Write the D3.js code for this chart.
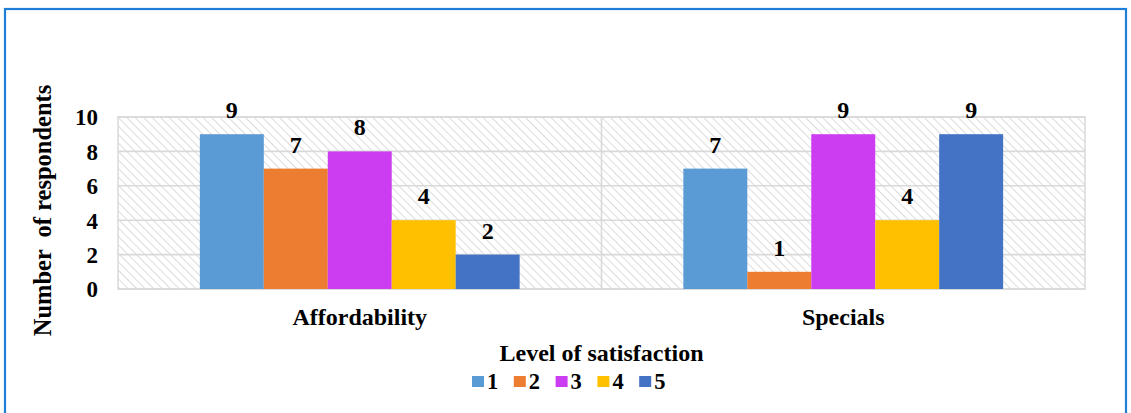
<!DOCTYPE html>
<html>
<head>
<meta charset="utf-8">
<script src="https://cdn.jsdelivr.net/npm/d3@7"></script>
<style>
  html, body { margin: 0; padding: 0; background: #ffffff; }
  svg { display: block; }
  svg text { font-family: 'Liberation Serif', 'Times New Roman', Tinos, 'DejaVu Serif', serif !important; font-weight: bold; fill: #000; }
</style>
</head>
<body>
<svg id="chart" width="1131" height="413"></svg>
<script>
// Survey responses by satisfaction level
const categories = ["Affordability", "Specials"];
const levels = ["1", "2", "3", "4", "5"];
const affordability = [9, 7, 8, 4, 2];
const specials = [7, 1, 9, 4, 9];
const yTicks = [0, 2, 4, 6, 8, 10];
const levelColors = ["#5b9bd5", "#ed7d31", "#cc3df2", "#ffc000", "#4472c4"];

const seriesByCategory = [affordability, specials];

const W = 1131, H = 413;
const plot = { left: 118, right: 1085, top: 117, bottom: 289 };
const FONT = "'Liberation Serif', 'Times New Roman', Tinos, 'DejaVu Serif', serif";

const svg = d3.select("#chart");

// outer chart frame
svg.append("rect")
  .attr("x", 5).attr("y", 9)
  .attr("width", 1121).attr("height", H + 10)
  .attr("fill", "#ffffff")
  .attr("stroke", "#1f7fd6")
  .attr("stroke-width", 2.2);

// diagonal hatch for the plot area
const defs = svg.append("defs");
const pat = defs.append("pattern")
  .attr("id", "hatch")
  .attr("patternUnits", "userSpaceOnUse")
  .attr("width", 6).attr("height", 6)
  .attr("patternTransform", "rotate(-45)");
pat.append("rect").attr("width", 6).attr("height", 6).attr("fill", "#ffffff");
pat.append("line")
  .attr("x1", 0).attr("y1", 0).attr("x2", 0).attr("y2", 6)
  .attr("stroke", "#d3d3d3").attr("stroke-width", 1.6);

const x0 = d3.scaleBand()
  .domain(categories)
  .range([plot.left, plot.right])
  .paddingInner(0).paddingOuter(0);

const x1 = d3.scaleBand()
  .domain(levels)
  .range([0, x0.bandwidth()])
  .paddingInner(0)
  .paddingOuter(1.28);

const y = d3.scaleLinear()
  .domain([0, 10])
  .range([plot.bottom, plot.top]);

// plot area background
svg.append("rect")
  .attr("x", plot.left).attr("y", plot.top)
  .attr("width", plot.right - plot.left)
  .attr("height", plot.bottom - plot.top)
  .attr("fill", "url(#hatch)")
  .attr("stroke", "#d9d9d9")
  .attr("stroke-width", 1.5);

// horizontal gridlines
svg.append("g")
  .selectAll("line")
  .data(yTicks)
  .join("line")
  .attr("x1", plot.left).attr("x2", plot.right)
  .attr("y1", d => y(d)).attr("y2", d => y(d))
  .attr("stroke", "#d9d9d9")
  .attr("stroke-width", 1.6);

// category separators
svg.append("g")
  .selectAll("line")
  .data(categories.slice(1))
  .join("line")
  .attr("x1", d => x0(d)).attr("x2", d => x0(d))
  .attr("y1", plot.top).attr("y2", plot.bottom)
  .attr("stroke", "#d9d9d9")
  .attr("stroke-width", 1.6);

// y axis tick labels
const yAxis = d3.axisLeft(y).tickValues(yTicks).tickSize(0).tickPadding(0);
const yg = svg.append("g")
  .attr("transform", `translate(${plot.left - 20},0)`)
  .call(yAxis)
  .attr("font-family", FONT)
  .attr("font-size", 23);
yg.select(".domain").remove();
yg.selectAll("text")
  .attr("dy", "0.34em");

// x axis category labels
const xAxis = d3.axisBottom(x0).tickSize(0).tickPadding(0);
const xg = svg.append("g")
  .attr("transform", `translate(0,${plot.bottom})`)
  .call(xAxis)
  .attr("font-family", FONT)
  .attr("font-size", 24);
xg.select(".domain").remove();
xg.selectAll("text")
  .attr("dy", null)
  .attr("y", 36);

// bars
const groups = svg.append("g")
  .selectAll("g")
  .data(categories.map((c, i) => ({ cat: c, vals: seriesByCategory[i] })))
  .join("g")
  .attr("transform", d => `translate(${x0(d.cat)},0)`);

groups.selectAll("rect")
  .data(d => d.vals.map((v, j) => ({ level: levels[j], v, color: levelColors[j] })))
  .join("rect")
  .attr("x", d => x1(d.level))
  .attr("width", x1.bandwidth())
  .attr("y", d => y(d.v))
  .attr("height", d => y(0) - y(d.v))
  .attr("fill", d => d.color);

// value labels
groups.selectAll("text.val")
  .data(d => d.vals.map((v, j) => ({ level: levels[j], v })))
  .join("text")
  .attr("class", "val")
  .attr("x", d => x1(d.level) + x1.bandwidth() / 2)
  .attr("y", d => y(d.v) - 16)
  .attr("text-anchor", "middle")
  .attr("font-size", 24)
  .text(d => d.v);

// y axis title
svg.append("text")
  .attr("transform", `translate(51,${(84 + 337) / 2}) rotate(-90)`)
  .attr("text-anchor", "middle")
  .attr("font-size", 24.5)
  .style("white-space", "pre")
  .text("Number  of respondents");

// x axis title
svg.append("text")
  .attr("x", (plot.left + plot.right) / 2)
  .attr("y", 361)
  .attr("text-anchor", "middle")
  .attr("font-size", 24)
  .text("Level of satisfaction");

// legend
const legend = svg.append("g")
  .attr("transform", "translate(472,0)")
  .selectAll("g")
  .data(levels)
  .join("g")
  .attr("transform", (d, i) => `translate(${i * 41.8},0)`);
legend.append("rect")
  .attr("x", 0).attr("y", 376)
  .attr("width", 12).attr("height", 11)
  .attr("fill", (d, i) => levelColors[i]);
legend.append("text")
  .attr("x", 15).attr("y", 389)
  .attr("font-size", 22.5)
  .text(d => d);
</script>
</body>
</html>
